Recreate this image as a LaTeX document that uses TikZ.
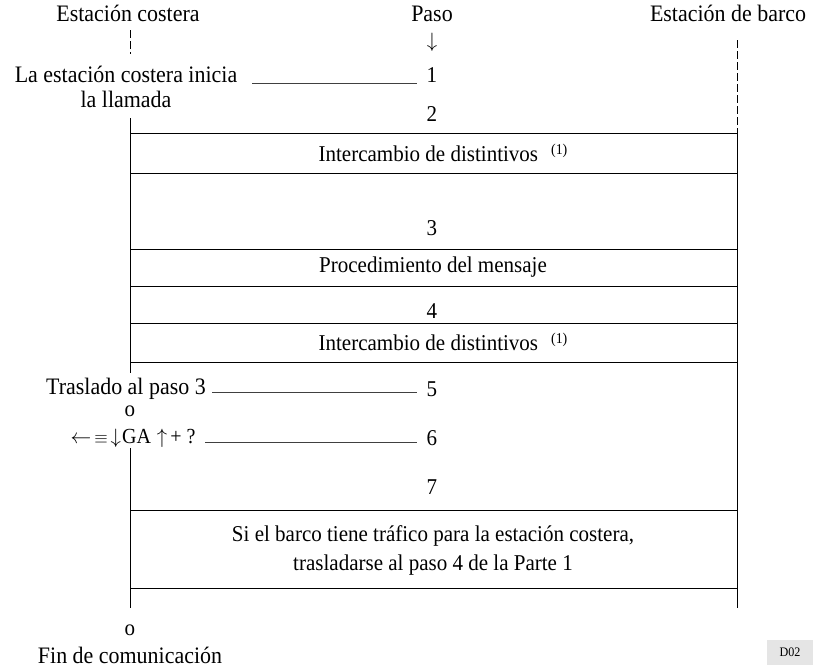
\documentclass[tikz,border=0pt]{standalone}
\usepackage{fontspec}
\setmainfont{Liberation Serif}[FakeStretch=0.93]
\begin{document}
\begin{tikzpicture}[x=1pt,y=-1pt,
  big/.style={font=\fontsize{23.6}{25}\selectfont, inner sep=0pt},
  mid/.style={font=\fontsize{22.6}{29}\selectfont, inner sep=0pt},
  num/.style={font=\fontsize{22.6}{22}\selectfont, inner sep=0pt},
  lifeline/.style={draw=black, line width=0.8pt},
  dashline/.style={draw=black, line width=0.8pt, dash pattern=on 8pt off 3pt},
  stepline/.style={draw=black!75, line width=0.8pt},
  boxrow/.style={draw=black, line width=0.8pt}]
\useasboundingbox (0,0) rectangle (815,667);

% column headings, sharing one baseline
\node[big, anchor=base] (hcoast) at (128,21) {Estación costera};
\node[big, anchor=base] (hpaso) at (432,21) {Paso};
\node[big, anchor=base] (hship) at (728,21) {Estación de barco};
\node[num] (parrow) at (432,42) {$\downarrow$};

% lifelines
\coordinate (c0) at (130,30);
\coordinate (c1) at (130,54);
\coordinate (c2) at (130,118);
\coordinate (c3) at (130,373);
\coordinate (c4) at (130,448);
\coordinate (c5) at (130,608);
\coordinate (s0) at (737,40);
\coordinate (s1) at (737,133);
\coordinate (s2) at (737,608);
\path[dashline] (c0) -- (c1);
\path[dashline] (s0) -- (s1);
\path[lifeline] (c2) -- (c3);
\path[lifeline] (c4) -- (c5);
\path[lifeline] (s1) -- (s2);

% step 1
\node[big, align=center] (call) at (126,87) {La estación costera inicia\\la llamada};
\node[num] (n1) at (432,75) {1};
\coordinate (l1a) at (252,83);
\coordinate (l1b) at (417,83);
\path[stepline] (l1a) -- (l1b);

% step 2
\node[num] (n2) at (432,114) {2};
\path[boxrow] (130,133) rectangle (737,173);
\node[mid] (b1) at (443,153) {Intercambio de distintivos\hspace{13pt}\raisebox{7pt}{\fontsize{15}{15}\selectfont (1)}};

% step 3
\node[num] (n3) at (432,228) {3};
\path[boxrow] (130,249) rectangle (737,286);
\node[mid] (b2) at (433,267) {Procedimiento del mensaje};

% step 4
\node[num] (n4) at (432,311) {4};
\path[boxrow] (130,323) rectangle (737,362);
\node[mid] (b3) at (443,342) {Intercambio de distintivos\hspace{13pt}\raisebox{7pt}{\fontsize{15}{15}\selectfont (1)}};

% step 5
\node[big] (t5) at (126,389) {Traslado al paso 3};
\node[num] (n5) at (432,389) {5};
\coordinate (l5a) at (212,392);
\coordinate (l5b) at (417,392);
\path[stepline] (l5a) -- (l5b);
\node[num] (or1) at (130,411) {o};

% step 6
\node[font=\fontsize{21.5}{22}\selectfont, inner sep=0pt] (t6) at (133,438)
  {$\leftarrow$\hspace{3pt}{\fontsize{16}{16}\selectfont$\equiv$}\hspace{3pt}$\downarrow$\hspace{1pt}GA\hspace{6pt}$\uparrow$\hspace{3pt}+\hspace{5pt}?};
\node[num] (n6) at (432,438) {6};
\coordinate (l6a) at (205,442);
\coordinate (l6b) at (417,442);
\path[stepline] (l6a) -- (l6b);

% step 7
\node[num] (n7) at (432,487) {7};
\path[boxrow] (130,510) rectangle (737,588);
\node[mid, align=center] (b4) at (433,550)
  {Si el barco tiene tráfico para la estación costera,\\trasladarse al paso 4 de la Parte 1};

% end
\node[num] (or2) at (130,630) {o};
\node[big] (fin) at (130,655) {Fin de comunicación};

% figure tag
\node[fill=black!10, minimum width=46pt, minimum height=25pt, inner sep=0pt,
      font=\fontsize{13}{13}\selectfont] (tag) at (790,652) {D02};
\end{tikzpicture}
\end{document}
